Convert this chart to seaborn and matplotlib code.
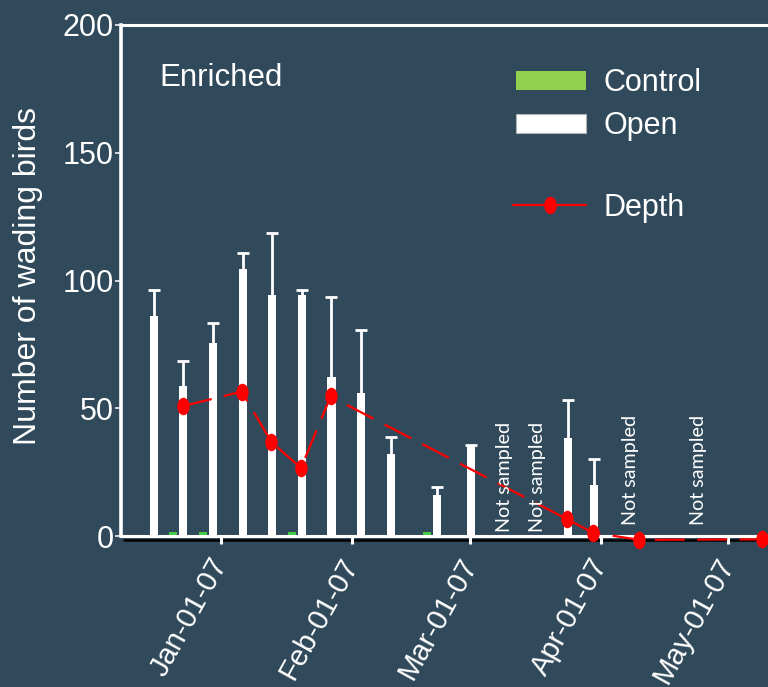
import numpy as np
import pandas as pd
import matplotlib
matplotlib.use("Agg")
import matplotlib.pyplot as plt
import matplotlib.dates as mdates
from matplotlib.path import Path
from matplotlib.transforms import Affine2D, offset_copy
from matplotlib.patches import Patch
from matplotlib.lines import Line2D
import seaborn as sns

# ---- data -------------------------------------------------------------
treatments = ["Control", "Open"]
sample_dates = ["2006-12-15", "2006-12-22", "2006-12-29", "2007-01-05",
                "2007-01-12", "2007-01-19", "2007-01-26", "2007-02-02",
                "2007-02-09", "2007-02-20", "2007-02-28", "2007-03-23",
                "2007-03-29"]
control_birds = [0, 1.4, 1.4, 0, 0, 1.4, 0, 0, 0, 1.4, 0, 0, 0]
open_birds = [86.2, 58.9, 75.7, 104.4, 94.2, 94.2, 62.1, 56.0, 32.2,
              16.0, 35.2, 38.5, 20.1]
open_err = [10.1, 9.7, 7.8, 6.3, 24.3, 2.0, 31.6, 24.6, 6.5, 3.2, 0.5,
            14.9, 9.9]

depth_dates = ["2006-12-23", "2007-01-06", "2007-01-13", "2007-01-20",
               "2007-01-27", "2007-03-24", "2007-03-30", "2007-04-10",
               "2007-05-09"]
depth_values = [50.8, 56.5, 36.8, 26.6, 54.6, 6.5, 1.3, -1.5, -1.3]

not_sampled_dates = ["2007-03-09", "2007-03-17", "2007-04-08", "2007-04-24"]
not_sampled_y = [1.5, 1.5, 4.5, 4.5]

month_ticks = ["2007-01-01", "2007-02-01", "2007-03-01", "2007-04-01",
               "2007-05-01"]
x_range = ["2006-12-08 10:48", "2007-05-12 01:26"]
y_ticks = [0, 50, 100, 150, 200]

# ---- style ------------------------------------------------------------
BG = "#314A5B"
GREEN = "#2FE02F"
LEGEND_GREEN = "#92D050"
RED = "#FF0000"

sns.set_theme(style="ticks")
plt.rcParams["font.family"] = ["Liberation Sans", "DejaVu Sans"]


def to_num(dates):
    return mdates.date2num(pd.to_datetime(dates))


fig = plt.figure(figsize=(7.68, 6.87), dpi=100, facecolor=BG)
ax = fig.add_axes([121 / 768, 151 / 687, 654 / 768, 511 / 687])
ax.set_facecolor(BG)

# ---- grouped bars -----------------------------------------------------
n = len(sample_dates)
date_num = to_num(sample_dates)
bars = pd.DataFrame({
    "date": np.concatenate([date_num, date_num]),
    "birds": control_birds + open_birds,
    "treatment": ["Control"] * n + ["Open"] * n,
})
sns.barplot(data=bars, x="date", y="birds", hue="treatment",
            hue_order=treatments, palette={"Control": GREEN, "Open": "white"},
            native_scale=True, width=0.8, gap=0.2, errorbar=None,
            linewidth=0, legend=False, ax=ax, zorder=2)

# upper error bars on the open-plot bars (no cap at the bar top)
open_container = [c for c in ax.containers
                  if np.allclose(c.patches[0].get_facecolor()[:3], (1, 1, 1))][0]
centers = sorted(p.get_x() + p.get_width() / 2 for p in open_container.patches)
_, caps, _ = ax.errorbar(centers, open_birds, yerr=[np.zeros(n), open_err],
                         fmt="none", ecolor="white", elinewidth=2.0,
                         capsize=4.6, capthick=2.0, zorder=1.9)
for cap in caps:
    if np.allclose(cap.get_ydata(), open_birds):
        cap.set_visible(False)

# ---- water depth ------------------------------------------------------
circle = Path.unit_circle()
ellipse = Path(Affine2D().scale(0.71, 1.0).transform(circle.vertices),
               circle.codes)
sns.lineplot(x=to_num(depth_dates), y=depth_values, color=RED, lw=1.6,
             linestyle=(0, (13.5, 5.6)), marker=ellipse, markersize=12.6,
             markeredgewidth=0, markerfacecolor=RED, clip_on=False,
             estimator=None, sort=False, zorder=5, ax=ax)

# ---- annotations ------------------------------------------------------
for d, y in zip(not_sampled_dates, not_sampled_y):
    ax.text(to_num([d])[0], y, "Not sampled", rotation=90, ha="center",
            va="bottom", color="white", fontsize=14.2,
            family=["Lato", "DejaVu Sans"], zorder=6)

ax.text(0.153, 0.8806, "Enriched", transform=ax.transAxes, ha="center",
        va="baseline", color="white", fontsize=22.5)

# ---- axes -------------------------------------------------------------
ax.set_xlim(to_num(x_range))
ax.set_xticks(to_num(month_ticks))
ax.xaxis.set_major_formatter(mdates.DateFormatter("%b-%d-%y"))
ax.set_ylim(0, 200)
ax.set_yticks(y_ticks)
ax.set_xlabel("")
ax.tick_params(axis="x", colors="white", length=5.8, width=2.2, pad=11.5,
               labelsize=21)
ax.tick_params(axis="y", colors="white", length=4.3, width=1.1, pad=1.0,
               labelsize=22)
plt.setp(ax.get_xticklabels(), rotation=61, ha="right", va="center",
         rotation_mode="anchor")

ax.set_ylabel("Number of wading birds", color="white", fontsize=23)
ax.yaxis.set_label_coords((43 - 121) / 654, 0.509)

for side in ["left", "top", "bottom"]:
    ax.spines[side].set_color("white")
ax.spines["left"].set_linewidth(2.6)
ax.spines["top"].set_linewidth(2.2)
ax.spines["bottom"].set_linewidth(2.2)
ax.spines["right"].set_visible(False)

# dark shadow line under the baseline
shadow = offset_copy(ax.transAxes, fig=fig, y=-3.5, units="dots")
ax.plot([0.005, 1], [0, 0], color="black", lw=1.8, transform=shadow,
        clip_on=False, zorder=0.5)

# ---- legends ----------------------------------------------------------
leg1 = fig.legend(
    handles=[Patch(facecolor=LEGEND_GREEN, edgecolor="none"),
             Patch(facecolor="white", edgecolor="#B0B0B0", linewidth=0.8)],
    labels=treatments, loc="upper left",
    bbox_to_anchor=(516 / 768, 1 - 68 / 687), frameon=False, fontsize=22,
    labelcolor="white", handlelength=2.3, handleheight=0.6,
    handletextpad=0.55, labelspacing=0.44, borderpad=0, borderaxespad=0)
leg2 = fig.legend(
    handles=[Line2D([], [], color=RED, lw=1.6, marker=ellipse,
                    markersize=12.6, markeredgewidth=0)],
    labels=["Depth"], loc="upper left",
    bbox_to_anchor=(513 / 768, 1 - 193 / 687), frameon=False, fontsize=22,
    labelcolor="white", handlelength=2.4, handletextpad=0.55,
    borderpad=0, borderaxespad=0)

fig.savefig("out.png", dpi=100, facecolor=BG)
